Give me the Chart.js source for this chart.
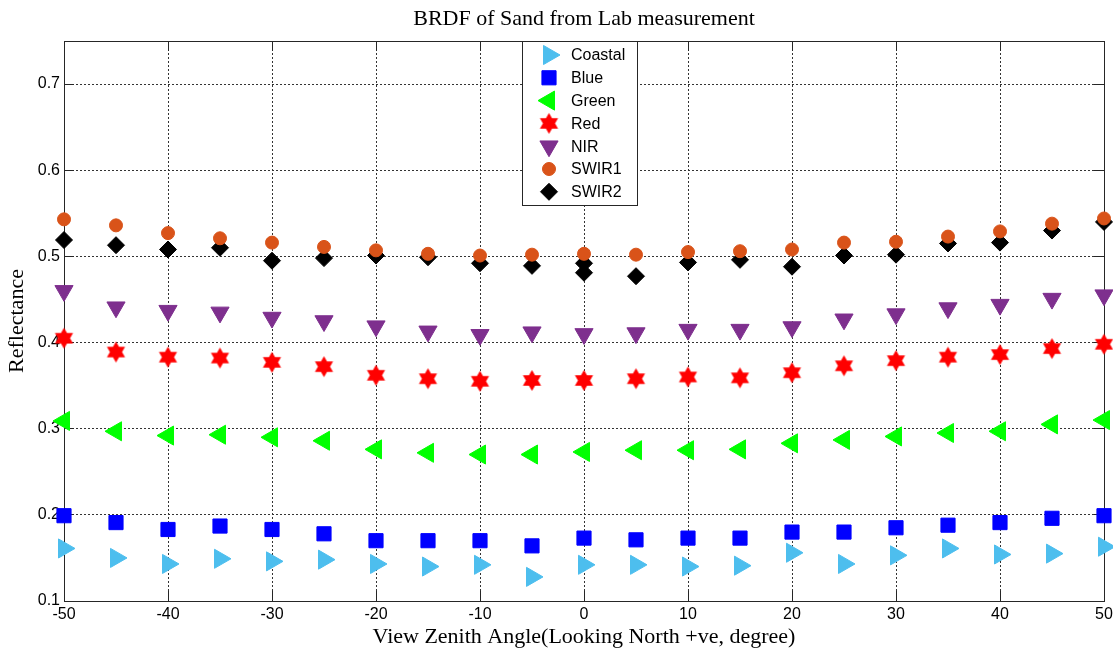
<!DOCTYPE html>
<html>
<head>
<meta charset="utf-8">
<script src="https://cdn.jsdelivr.net/npm/chart.js@4.4.0/dist/chart.umd.min.js"></script>
<style>
  html, body { margin: 0; padding: 0; background: #fff; }
  #wrap { width: 1113px; height: 648px; }
</style>
</head>
<body>
<div id="wrap"><canvas id="brdfChart"></canvas></div>
<script>
// ===== data =====
const angles = [-50, -45, -40, -35, -30, -25, -20, -15, -10, -5, 0, 5, 10, 15, 20, 25, 30, 35, 40, 45, 50];
const coastal = [0.161, 0.150, 0.143, 0.149, 0.146, 0.148, 0.143, 0.140, 0.142, 0.128, 0.142, 0.142, 0.140, 0.141, 0.156, 0.143, 0.153, 0.161, 0.154, 0.155, 0.163];
const blue    = [0.199, 0.191, 0.183, 0.187, 0.183, 0.178, 0.170, 0.170, 0.170, 0.164, 0.173, 0.171, 0.173, 0.173, 0.180, 0.180, 0.185, 0.188, 0.191, 0.196, 0.199];
const green   = [0.309, 0.297, 0.292, 0.293, 0.290, 0.286, 0.276, 0.272, 0.270, 0.270, 0.273, 0.275, 0.275, 0.276, 0.283, 0.287, 0.291, 0.295, 0.297, 0.305, 0.310];
const red     = [0.405, 0.389, 0.383, 0.382, 0.377, 0.372, 0.362, 0.358, 0.355, 0.356, 0.356, 0.358, 0.360, 0.359, 0.365, 0.373, 0.379, 0.383, 0.386, 0.393, 0.398];
const nir     = [0.460, 0.441, 0.437, 0.435, 0.429, 0.425, 0.419, 0.413, 0.409, 0.412, 0.410, 0.411, 0.415, 0.415, 0.418, 0.427, 0.433, 0.440, 0.444, 0.451, 0.455];
const swir1   = [0.543, 0.536, 0.527, 0.521, 0.516, 0.511, 0.507, 0.503, 0.501, 0.502, 0.503, 0.502, 0.505, 0.506, 0.508, 0.516, 0.517, 0.523, 0.529, 0.538, 0.544];
// SWIR2 has two measurements at 0 degrees
const swir2Angles = [-50, -45, -40, -35, -30, -25, -20, -15, -10, -5, 0, 0, 5, 10, 15, 20, 25, 30, 35, 40, 45, 50];
const swir2   = [0.519, 0.513, 0.508, 0.510, 0.495, 0.498, 0.501, 0.499, 0.492, 0.489, 0.492, 0.481, 0.477, 0.493, 0.496, 0.488, 0.501, 0.502, 0.515, 0.516, 0.530, 0.540];

const xTicks = [-50, -40, -30, -20, -10, 0, 10, 20, 30, 40, 50];
const yTicks = [0.1, 0.2, 0.3, 0.4, 0.5, 0.6, 0.7];

const SANS = '"Liberation Sans", Arial, sans-serif';
const SERIF = '"Liberation Serif", "Times New Roman", serif';

// six-pointed star, used as a pointStyle image
function makeHexagram(color, r) {
    const c = document.createElement('canvas');
    const s = Math.ceil(r * 2) + 2;
    c.width = s; c.height = s;
    const g = c.getContext('2d');
    g.fillStyle = color;
    g.beginPath();
    for (let i = 0; i < 12; i++) {
        const a = -Math.PI / 2 + i * Math.PI / 6;
        const rr = i % 2 === 0 ? r : r / Math.sqrt(3);
        g.lineTo(s / 2 + rr * Math.cos(a), s / 2 + rr * Math.sin(a));
    }
    g.closePath();
    g.fill();
    return c;
}
const redStar = makeHexagram('#FF0000', 10.5);

function pts(xs, ys) {
    return ys.map((v, i) => ({ x: xs[i], y: v }));
}

function ds(label, xs, ys, color, style, rotation, radius) {
    return {
        label: label,
        data: pts(xs, ys),
        backgroundColor: color,
        borderColor: color,
        borderWidth: style instanceof HTMLCanvasElement ? 0 : 1,
        pointStyle: style,
        pointRotation: rotation,
        pointRadius: radius,
        pointHoverRadius: radius,
        showLine: false,
        clip: false
    };
}

// box, inward ticks (drawn under the markers)
const framePlugin = {
    id: 'frame',
    beforeDatasetsDraw(chart) {
        const { ctx, chartArea: a, scales } = chart;
        const al = p => Math.round(p - 0.5) + 0.5;
        ctx.save();
        ctx.setLineDash([]);
        ctx.strokeStyle = '#262626';
        ctx.lineWidth = 1;
        ctx.beginPath();
        xTicks.forEach(v => {
            const px = al(scales.x.getPixelForValue(v));
            ctx.moveTo(px, a.bottom); ctx.lineTo(px, a.bottom - 10);
            ctx.moveTo(px, a.top); ctx.lineTo(px, a.top + 10);
        });
        yTicks.forEach(v => {
            const py = al(scales.y.getPixelForValue(v));
            ctx.moveTo(a.left, py); ctx.lineTo(a.left + 10, py);
            ctx.moveTo(a.right, py); ctx.lineTo(a.right - 10, py);
        });
        ctx.stroke();
        ctx.strokeRect(al(a.left), al(a.top), Math.round(a.right - a.left), Math.round(a.bottom - a.top));
        ctx.restore();
    }
};

// legend box inside the plot, matlab style
const boxLegend = {
    id: 'boxLegend',
    afterDraw(chart) {
        const { ctx, chartArea: a } = chart;
        const left = 522, top = Math.round(a.top) + 0.5, w = 115, h = 164;
        ctx.save();
        ctx.fillStyle = '#fff';
        ctx.fillRect(left, top, w, h);
        ctx.strokeStyle = '#262626';
        ctx.lineWidth = 1;
        ctx.setLineDash([]);
        ctx.strokeRect(left + 0.5, top, w, h);
        chart.data.datasets.forEach((d, i) => {
            const y = top + 13.5 + i * 22.8;
            ctx.fillStyle = d.backgroundColor;
            ctx.strokeStyle = d.borderColor;
            ctx.lineWidth = d.borderWidth;
            Chart.helpers.drawPoint(ctx, {
                pointStyle: d.pointStyle,
                rotation: d.pointRotation,
                radius: d.pointRadius,
                borderWidth: d.borderWidth
            }, 549, y);
            ctx.fillStyle = '#000';
            ctx.font = '16px ' + SANS;
            ctx.textBaseline = 'middle';
            ctx.textAlign = 'left';
            ctx.fillText(d.label, 571, y + 1);
        });
        ctx.restore();
    }
};

new Chart(document.getElementById('brdfChart'), {
    type: 'scatter',
    data: {
        datasets: [
            ds('Coastal', angles, coastal, '#4DBEEE', 'triangle', 90, 11),
            ds('Blue', angles, blue, '#0000FF', 'rect', 0, 10),
            ds('Green', angles, green, '#00FF00', 'triangle', 270, 11),
            ds('Red', angles, red, '#FF0000', redStar, 0, 10),
            ds('NIR', angles, nir, '#7E2F8E', 'triangle', 180, 10.5),
            ds('SWIR1', angles, swir1, '#D95319', 'circle', 0, 6.5),
            ds('SWIR2', swir2Angles, swir2, '#000000', 'rectRot', 0, 8.5)
        ]
    },
    options: {
        responsive: true,
        maintainAspectRatio: false,
        animation: false,
        layout: { autoPadding: false, padding: { top: 0, right: 9, bottom: 0, left: 0 } },
        plugins: {
            legend: { display: false },
            tooltip: { enabled: false },
            title: {
                display: true,
                fullSize: false,
                text: 'BRDF of Sand from Lab measurement',
                color: '#000',
                font: { family: SERIF, size: 22, weight: 'normal', lineHeight: 1.2 },
                padding: { top: 6, bottom: 8.6 }
            }
        },
        scales: {
            x: {
                type: 'linear',
                min: -50,
                max: 50,
                afterBuildTicks: s => { s.ticks = xTicks.map(v => ({ value: v })); },
                afterFit: s => { s.height = 47; s.paddingLeft = 0; s.paddingRight = 0; },
                ticks: {
                    color: '#000',
                    font: { family: SANS, size: 16 },
                    padding: 4,
                    maxRotation: 0
                },
                grid: { color: '#333', lineWidth: 1, drawTicks: false },
                border: { display: false, dash: [2, 2] },
                title: {
                    display: true,
                    text: 'View Zenith Angle(Looking North +ve, degree)',
                    color: '#000',
                    font: { family: SERIF, size: 22, lineHeight: 1 },
                    padding: { top: 0, bottom: 0 }
                }
            },
            y: {
                type: 'linear',
                min: 0.1,
                max: 0.75,
                afterBuildTicks: s => { s.ticks = yTicks.map(v => ({ value: v })); },
                afterFit: s => { s.width = 64; s.paddingTop = 0; s.paddingBottom = 0; },
                ticks: {
                    color: '#000',
                    font: { family: SANS, size: 16 },
                    padding: 4,
                    callback: v => v.toFixed(1)
                },
                grid: { color: '#333', lineWidth: 1, drawTicks: false },
                border: { display: false, dash: [2, 2] },
                title: {
                    display: true,
                    text: 'Reflectance',
                    color: '#000',
                    font: { family: SERIF, size: 22, lineHeight: 1 },
                    padding: { top: 6, bottom: 0 }
                }
            }
        }
    },
    plugins: [framePlugin, boxLegend]
});
</script>
</body>
</html>
